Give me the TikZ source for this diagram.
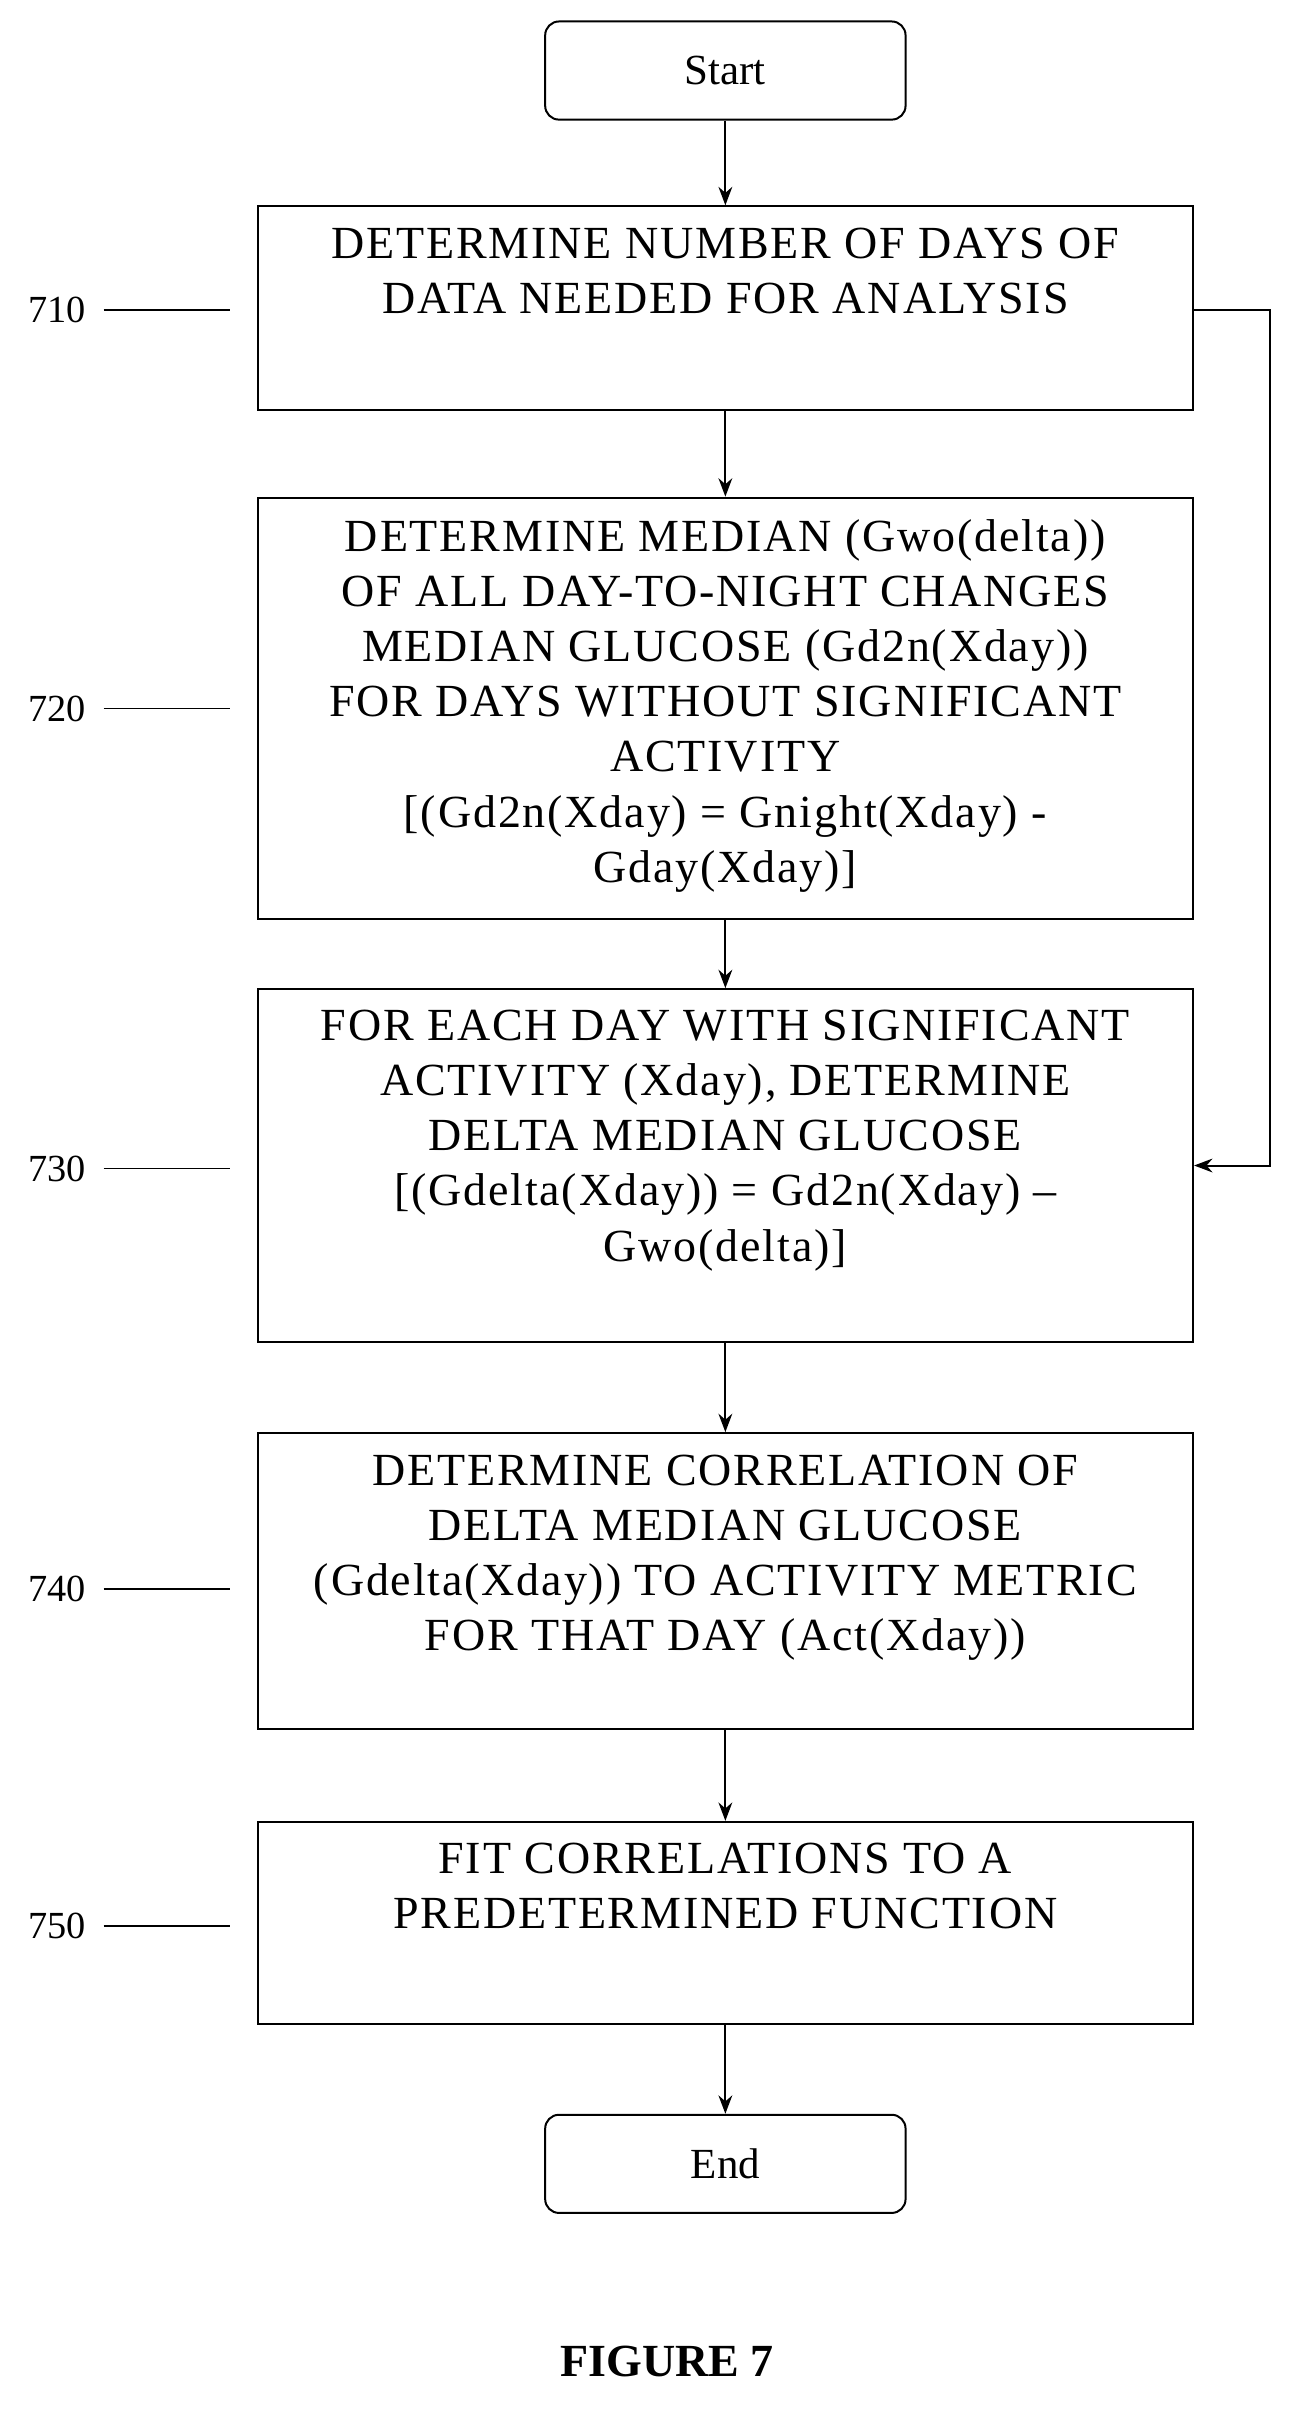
\documentclass[tikz,border=0pt]{standalone}
\usepackage{fontspec}
\setmainfont{Liberation Serif}
\usetikzlibrary{arrows.meta}
\begin{document}
\begin{tikzpicture}[x=1pt,y=-1pt,
 box/.style={draw,line width=1.3pt,minimum width=610pt,inner sep=0pt},
 txt/.style={align=center,font=\fontsize{30}{36}\selectfont\addfontfeature{LetterSpace=4},anchor=north},
 term/.style={draw,line width=1.3pt,rounded corners=9pt,minimum width=235pt,minimum height=64pt,font=\fontsize{28}{32}\selectfont},
 lab/.style={font=\fontsize{25}{28}\selectfont,anchor=west},
 arr/.style={line width=1.3pt,-{Stealth[length=12pt,width=9pt]}},
 ln/.style={line width=1pt}]
\useasboundingbox (0,0) rectangle (850,1580);
\node[term] (start) at (473,46) {Start};
\node[box,minimum height=133pt] (b710) at (473,201) {};
\node[txt] (t710) at (473,145) {DETERMINE NUMBER OF DAYS OF\\DATA NEEDED FOR ANALYSIS};
\node[box,minimum height=275pt] (b720) at (473,462) {};
\node[txt] (t720) at (473,335) {DETERMINE MEDIAN (Gwo(delta))\\OF ALL DAY-TO-NIGHT CHANGES\\MEDIAN GLUCOSE (Gd2n(Xday))\\FOR DAYS WITHOUT SIGNIFICANT\\ACTIVITY\\{[}(Gd2n(Xday) = Gnight(Xday) -\\Gday(Xday)]};
\node[box,minimum height=230pt] (b730) at (473,760) {};
\node[txt] (t730) at (473,655) {FOR EACH DAY WITH SIGNIFICANT\\ACTIVITY (Xday), DETERMINE\\DELTA MEDIAN GLUCOSE\\{[}(Gdelta(Xday)) = Gd2n(Xday) --\\Gwo(delta)]};
\node[box,minimum height=193pt] (b740) at (473,1031) {};
\node[txt] (t740) at (473,945) {DETERMINE CORRELATION OF\\DELTA MEDIAN GLUCOSE\\(Gdelta(Xday)) TO ACTIVITY METRIC\\FOR THAT DAY (Act(Xday))};
\node[box,minimum height=132pt] (b750) at (473,1254) {};
\node[txt] (t750) at (473,1198) {FIT CORRELATIONS TO A\\PREDETERMINED FUNCTION};
\node[term] (end) at (473,1411) {End};
\node[font=\bfseries\fontsize{30}{34}\selectfont] (fig) at (435,1540) {FIGURE 7};
\draw[arr] (start) -- (b710);
\draw[arr] (b710) -- (b720);
\draw[arr] (b720) -- (b730);
\draw[arr] (b730) -- (b740);
\draw[arr] (b740) -- (b750);
\draw[arr] (b750) -- (end);
\coordinate (r1) at (828,202);
\coordinate (r2) at (828,760);
\draw[arr] (b710.east |- r1) -- (r1) -- (r2) -- (b730.east |- r2);
\foreach \n/\y in {710/202,720/462,730/762,740/1036,750/1256}{
 \node[lab] (l\n) at (15,\y) {\n};
 \coordinate (c\n) at (150,\y);
 \draw[ln] (l\n.east) ++(8pt,0) -- (c\n);
}
\end{tikzpicture}
\end{document}
